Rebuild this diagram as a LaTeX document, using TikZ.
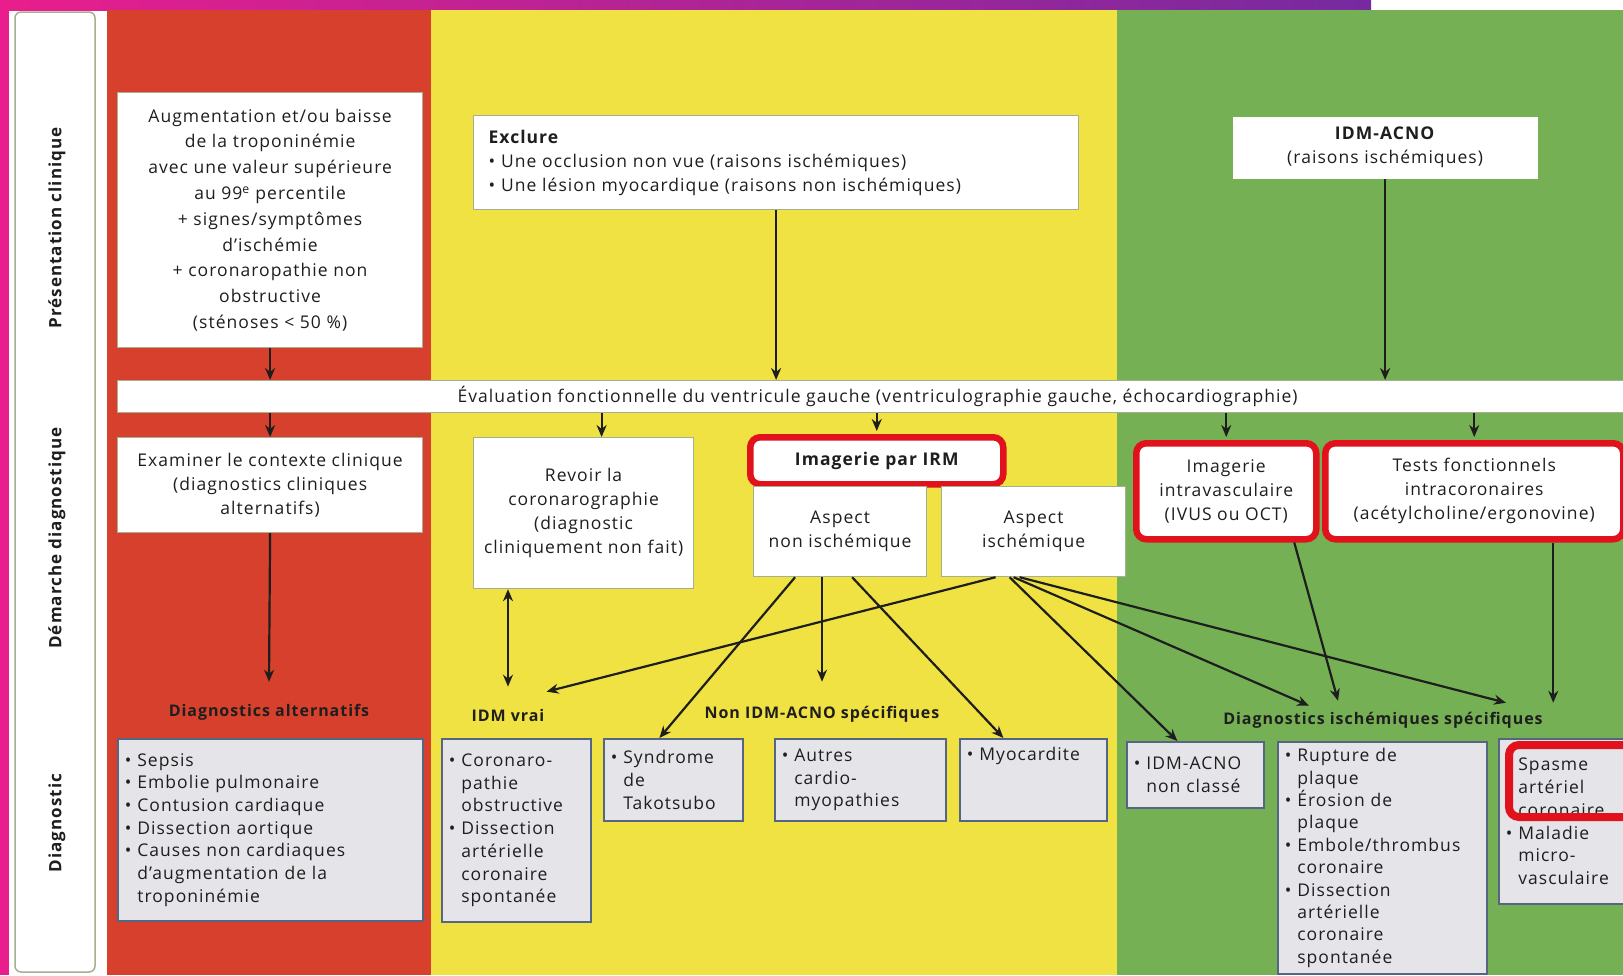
\documentclass[tikz,border=0pt]{standalone}
\usepackage{fontspec}
\setmainfont{Open Sans}[LetterSpace=6]
\usepackage{xcolor}
\definecolor{cnpink}{RGB}{233,30,140}
\definecolor{cnpurple}{RGB}{118,42,160}
\definecolor{cnred}{RGB}{215,64,44}
\definecolor{cnyellow}{RGB}{240,226,66}
\definecolor{cngreen}{RGB}{118,176,84}
\definecolor{cnframe}{RGB}{165,175,145}
\definecolor{cngray}{RGB}{229,229,233}
\definecolor{cnslate}{RGB}{84,102,130}
\definecolor{cnhigh}{RGB}{226,18,28}
\definecolor{cnink}{RGB}{30,30,30}
\usetikzlibrary{arrows.meta,positioning}
\newcommand{\bul}{\textbullet\ }
\newcommand{\ind}{\phantom{\textbullet\ }}

\begin{document}
\begin{tikzpicture}[x=1pt, y=-1pt,
  >={Stealth[length=12pt,width=10pt]},
  wbox/.style={
    rectangle, anchor=north west,
    draw=cnframe, line width=1.2pt,
    fill=white,
    align=center, inner sep=4pt,
    text=cnink,
    font=\fontsize{17.5}{24}\selectfont
  },
  hibox/.style={wbox, draw=cnhigh, line width=6.5pt, rounded corners=10pt},
  dbox/.style={
    rectangle, anchor=north west,
    draw=cnslate, line width=1.8pt,
    fill=cngray,
    align=left, inner xsep=7pt, inner ysep=5pt,
    text=cnink,
    font=\fontsize{17.5}{22.7}\selectfont
  },
  grplabel/.style={font=\fontsize{16}{18}\selectfont\bfseries, text=cnink, inner sep=2pt},
  rowlabel/.style={rotate=90, font=\fontsize{17}{18}\selectfont\bfseries, text=cnink},
  conn/.style={->, line width=2.2pt, draw=cnink}
]
\useasboundingbox (0,0) rectangle (1623,975);
\fill[white] (0,0) rectangle (1623,975);
\fill[cnpink] (0,0) rectangle (9,975);
\shade[left color=cnpink, right color=cnpurple] (0,0) rectangle (1371,10);
\fill[cnred] (107,10) rectangle (431,975);
\fill[cnyellow] (431,10) rectangle (1117,975);
\fill[cngreen] (1117,10) rectangle (1623,975);
\draw[cnframe, line width=1.5pt, fill=white, rounded corners=6pt] (15,12) rectangle (95,972);

\node[rowlabel] (rowpres) at (57,228) {Présentation clinique};
\node[rowlabel] (rowdem)  at (57,538) {Démarche diagnostique};
\node[rowlabel] (rowdiag) at (57,823) {Diagnostic};

\node[wbox, minimum width=305pt, minimum height=255pt, font=\fontsize{17.5}{25.8}\selectfont] (augm) at (117,92)
  {Augmentation et/ou baisse\\de la troponinémie\\avec une valeur supérieure\\au 99\textsuperscript{e} percentile\\+ signes/symptômes\\d’ischémie\\+ coronaropathie non\\obstructive\\(sténoses < 50 \%)};
\node[wbox, align=left, text width=575pt, inner xsep=15pt, minimum height=94pt] (exclure) at (473,115)
  {\textbf{Exclure}\\\bul Une occlusion non vue (raisons ischémiques)\\\bul Une lésion myocardique (raisons non ischémiques)};
\node[wbox, draw=none, minimum width=305pt, minimum height=62pt] (idmacno) at (1232,116)
  {\textbf{IDM-ACNO}\\(raisons ischémiques)};
\node[wbox, minimum width=1520pt, minimum height=32pt, inner ysep=0pt] (eval) at (117,380)
  {Évaluation fonctionnelle du ventricule gauche (ventriculographie gauche, échocardiographie)};

\node[wbox, minimum width=305pt, minimum height=95pt] (exam) at (117,437)
  {Examiner le contexte clinique\\(diagnostics cliniques\\alternatifs)};
\node[wbox, minimum width=220pt, minimum height=151pt] (revoir) at (473,437)
  {Revoir la\\coronarographie\\(diagnostic\\cliniquement non fait)};
\node[hibox, minimum width=253pt, minimum height=47pt, font=\fontsize{17.5}{24}\selectfont\bfseries] (irm) at (747,434)
  {Imagerie par IRM};
\node[wbox, minimum width=173pt, minimum height=90pt] (aspnon) at (753,486) {Aspect\\non ischémique};
\node[wbox, minimum width=184pt, minimum height=90pt] (aspisch) at (941,486) {Aspect\\ischémique};
\node[hibox, minimum width=180pt, minimum height=96pt] (ivus) at (1133,440)
  {Imagerie\\intravasculaire\\(IVUS ou OCT)};
\node[hibox, minimum width=298pt, minimum height=96pt] (tests) at (1322,440)
  {Tests fonctionnels\\intracoronaires\\(acétylcholine/ergonovine)};

\node[grplabel] (altlab)  at (269,712)  {Diagnostics alternatifs};
\node[grplabel] (vrailab) at (508,715)  {IDM vrai};
\node[grplabel] (nonlab)  at (822,714)  {Non IDM-ACNO spécifiques};
\node[grplabel] (ischlab) at (1383,720) {Diagnostics ischémiques spécifiques};

\node[dbox, text width=291pt, minimum height=182pt] (sepsis) at (117,738)
  {\bul Sepsis\\\bul Embolie pulmonaire\\\bul Contusion cardiaque\\\bul Dissection aortique\\\bul Causes non cardiaques\\\ind d’augmentation de la\\\ind troponinémie};
\node[dbox, text width=135pt, minimum height=183pt] (corona) at (441,738)
  {\bul Coronaro-\\\ind pathie\\\ind obstructive\\\bul Dissection\\\ind artérielle\\\ind coronaire\\\ind spontanée};
\node[dbox, text width=125pt, minimum height=82pt] (tako) at (603,738)
  {\bul Syndrome\\\ind de\\\ind Takotsubo};
\node[dbox, text width=157pt, minimum height=82pt] (autres) at (774,738)
  {\bul Autres\\\ind cardio-\\\ind myopathies};
\node[dbox, text width=133pt, minimum height=82pt, text depth=52pt] (myoc) at (959,738)
  {\bul Myocardite};
\node[dbox, text width=123pt, minimum height=66pt] (nonclas) at (1126,741)
  {\bul IDM-ACNO\\\ind non classé};
\node[dbox, text width=195pt, minimum height=232pt, inner ysep=3pt, font=\fontsize{17.5}{22.4}\selectfont] (rupture) at (1277,741)
  {\bul Rupture de\\\ind plaque\\\bul Érosion de\\\ind plaque\\\bul Embole/thrombus\\\ind coronaire\\\bul Dissection\\\ind artérielle\\\ind coronaire\\\ind spontanée};
\node[dbox, text width=126pt, minimum height=165pt] (spasme) at (1498,738)
  {\bul Spasme\\\ind artériel\\\ind coronaire\\\bul Maladie\\\ind micro-\\\ind vasculaire};
\node[hibox, fill=none, line width=8pt, minimum width=127pt, minimum height=72pt] (spasred) at (1505,741) {};

\draw[conn] (augm.south) -- (augm.south |- eval.north);
\draw[conn] (exclure.south) -- (exclure.south |- eval.north);
\draw[conn] (idmacno.south) -- (idmacno.south |- eval.north);

\coordinate (revtop) at ([xshift=18pt]revoir.north);
\draw[conn] (eval.south -| exam.north) -- (exam.north);
\draw[conn] (revtop |- eval.south) -- (revtop);
\draw[conn] (eval.south -| irm.north) -- ([yshift=3pt]irm.north);
\draw[conn] (eval.south -| ivus.north) -- ([yshift=3pt]ivus.north);
\draw[conn] (eval.south -| tests.north) -- ([yshift=3pt]tests.north);

\draw[conn] (exam.south) -- ([yshift=20pt]altlab.north);
\draw[conn, <->] (vrailab.north |- revoir.south) -- ([yshift=20pt]vrailab.north);
\draw[conn] ([xshift=-45pt]aspnon.south) -- ([xshift=-14pt]tako.north);
\draw[conn] (nonlab.north |- aspnon.south) -- ([yshift=22pt]nonlab.north);
\draw[conn] ([xshift=12pt]aspnon.south) -- ([xshift=-30pt]myoc.north);
\draw[conn] ([xshift=-38pt]aspisch.south) -- ([yshift=15pt]vrailab.north east);
\draw[conn] ([xshift=-24pt]aspisch.south) -- ([xshift=-18pt]nonclas.north);
\draw[conn] ([xshift=-20pt]aspisch.south) -- ([xshift=-74pt,yshift=4pt]ischlab.north);
\draw[conn] ([xshift=-14pt]aspisch.south) -- ([xshift=123pt,yshift=7pt]ischlab.north);
\draw[conn] ([xshift=68pt]ivus.south) -- ([xshift=-45pt,yshift=9pt]ischlab.north);
\coordinate (tstart) at ([xshift=79pt]tests.south);
\draw[conn] (tstart) -- ([yshift=7pt]tstart |- ischlab.north);
\end{tikzpicture}
\end{document}
